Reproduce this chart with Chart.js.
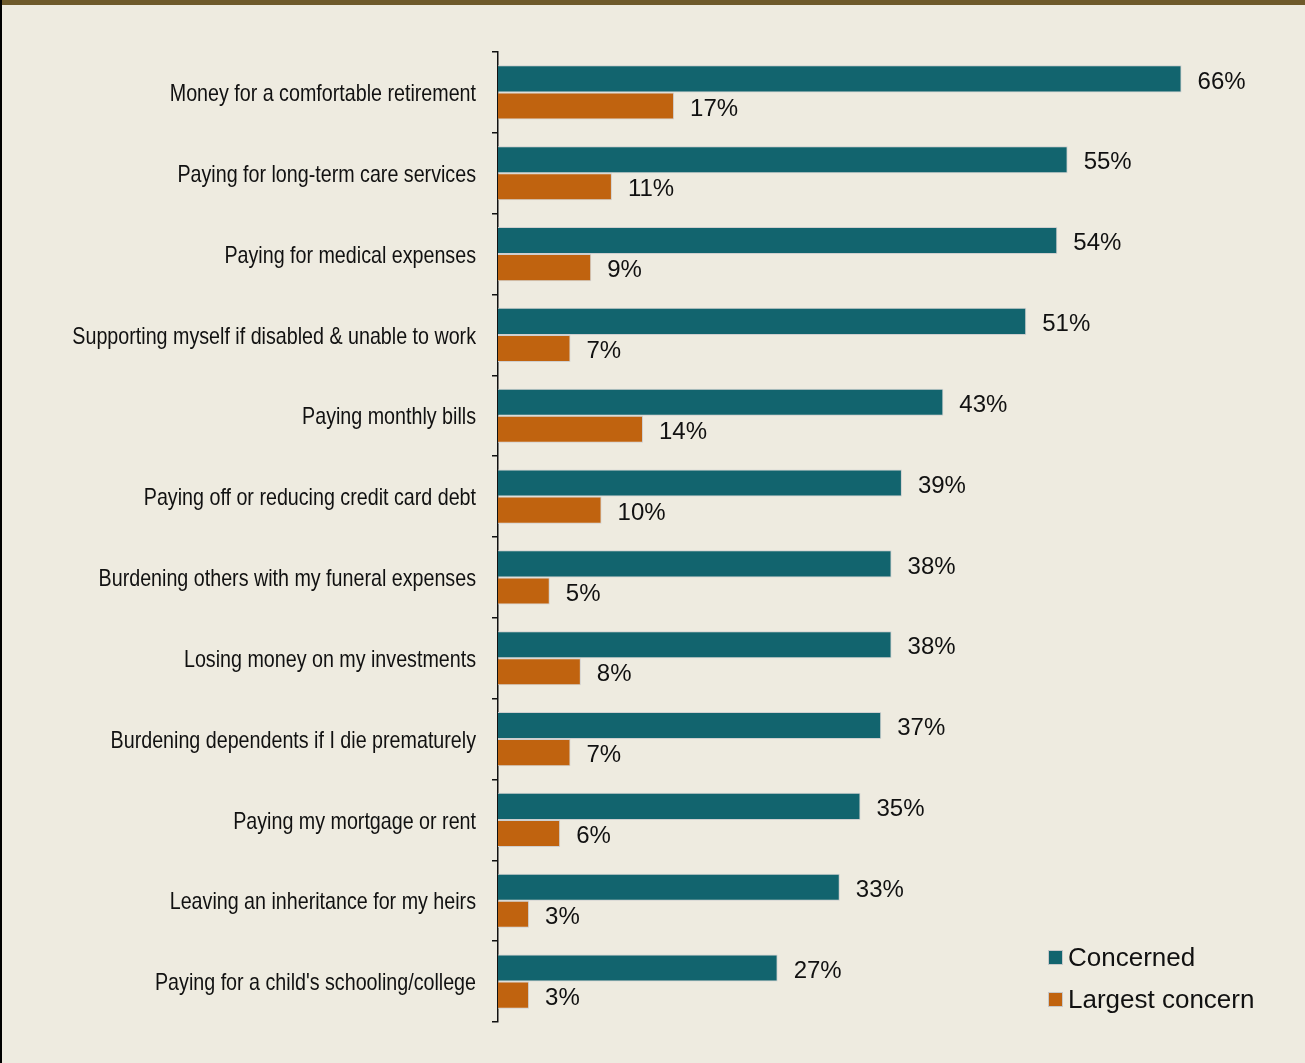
<!DOCTYPE html>
<html>
<head>
    <title>Financial Concerns</title>
    <script src="https://cdn.jsdelivr.net/npm/chart.js"></script>
    <style>
        body {
            margin: 0;
            background: #eeebe0;
        }

        .frame {
            position: relative;
            width: 1305px;
            height: 1063px;
            background: #eeebe0;
        }

        .top-bar {
            position: absolute;
            left: 0;
            top: 0;
            width: 1305px;
            height: 5px;
            background: #6e5a2b;
        }

        .left-line {
            position: absolute;
            left: 0;
            top: 0;
            width: 2px;
            height: 1063px;
            background: #000;
        }

        #concernChart {
            position: absolute;
            left: 0;
            top: 0;
        }
    </style>
</head>
<body>
    <div class="frame">
        <canvas id="concernChart" width="1305" height="1063"></canvas>
        <div class="top-bar"></div>
        <div class="left-line"></div>
    </div>
    <script>
        const categories = [
            'Money for a comfortable retirement',
            'Paying for long-term care services',
            'Paying for medical expenses',
            'Supporting myself if disabled & unable to work',
            'Paying monthly bills',
            'Paying off or reducing credit card debt',
            'Burdening others with my funeral expenses',
            'Losing money on my investments',
            'Burdening dependents if I die prematurely',
            'Paying my mortgage or rent',
            'Leaving an inheritance for my heirs',
            "Paying for a child's schooling/college"
        ];
        const concerned = [66, 55, 54, 51, 43, 39, 38, 38, 37, 35, 33, 27];
        const largestConcern = [17, 11, 9, 7, 14, 10, 5, 8, 7, 6, 3, 3];

        const seriesNames = ['Concerned', 'Largest concern'];
        const seriesColors = ['#12646e', '#c0630f'];

        // category names, squeezed horizontally to get a narrow face
        const narrowLabels = {
            id: 'narrowLabels',
            afterDraw(chart) {
                const ctx = chart.ctx;
                const yScale = chart.scales.y;
                ctx.save();
                ctx.font = '24px "Liberation Sans", Arial, sans-serif';
                ctx.fillStyle = '#111';
                ctx.textAlign = 'right';
                ctx.textBaseline = 'middle';
                chart.data.labels.forEach((label, i) => {
                    const y = yScale.getPixelForTick(i);
                    ctx.save();
                    ctx.translate(476, y + 2);
                    ctx.scale(0.82, 1);
                    ctx.fillText(label, 0, 0);
                    ctx.restore();
                });
                ctx.restore();
            }
        };

        // value labels at the end of every bar
        const valueLabels = {
            id: 'valueLabels',
            afterDatasetsDraw(chart) {
                const ctx = chart.ctx;
                ctx.save();
                ctx.font = '24px "Liberation Sans", Arial, sans-serif';
                ctx.fillStyle = '#111';
                ctx.textAlign = 'left';
                ctx.textBaseline = 'middle';
                chart.data.datasets.forEach((ds, i) => {
                    const meta = chart.getDatasetMeta(i);
                    meta.data.forEach((bar, j) => {
                        ctx.fillText(ds.data[j] + '%', bar.x + 16, bar.y + 3);
                    });
                });
                ctx.restore();
            }
        };

        // legend in the lower right corner
        const cornerLegend = {
            id: 'cornerLegend',
            afterDraw(chart) {
                const ctx = chart.ctx;
                ctx.save();
                ctx.font = '26px "Liberation Sans", Arial, sans-serif';
                ctx.textBaseline = 'middle';
                chart.data.datasets.forEach((ds, i) => {
                    const y = 958 + i * 42;
                    ctx.fillStyle = ds.backgroundColor;
                    ctx.fillRect(1049, y - 7, 13, 13);
                    ctx.strokeStyle = '#c8c8c8';
                    ctx.lineWidth = 1;
                    ctx.strokeRect(1048.5, y - 7.5, 14, 14);
                    ctx.fillStyle = '#111';
                    ctx.fillText(ds.label, 1068, y + 1);
                });
                ctx.restore();
            }
        };

        const ctx = document.getElementById('concernChart').getContext('2d');
        new Chart(ctx, {
            type: 'bar',
            data: {
                labels: categories,
                datasets: [
                    {
                        label: seriesNames[0],
                        data: concerned,
                        backgroundColor: seriesColors[0],
                        borderColor: '#cfcfcf',
                        borderWidth: 1,
                        barPercentage: 1,
                        categoryPercentage: 0.67
                    },
                    {
                        label: seriesNames[1],
                        data: largestConcern,
                        backgroundColor: seriesColors[1],
                        borderColor: '#cfcfcf',
                        borderWidth: 1,
                        barPercentage: 1,
                        categoryPercentage: 0.67
                    }
                ]
            },
            options: {
                indexAxis: 'y',
                responsive: false,
                animation: false,
                layout: {
                    padding: { left: 0, right: 82, top: 52, bottom: 41 }
                },
                plugins: {
                    legend: { display: false },
                    tooltip: { enabled: false }
                },
                scales: {
                    x: {
                        display: false,
                        min: 0,
                        max: 70
                    },
                    y: {
                        afterFit(scale) {
                            scale.width = 498;
                        },
                        border: { display: true, color: '#111', width: 1.5 },
                        grid: {
                            offset: true,
                            drawOnChartArea: false,
                            drawTicks: true,
                            tickLength: 6,
                            color: '#111',
                            lineWidth: 1.5
                        },
                        ticks: {
                            padding: 14,
                            color: 'rgba(0,0,0,0)'
                        }
                    }
                }
            },
            plugins: [narrowLabels, valueLabels, cornerLegend]
        });
    </script>
</body>
</html>
